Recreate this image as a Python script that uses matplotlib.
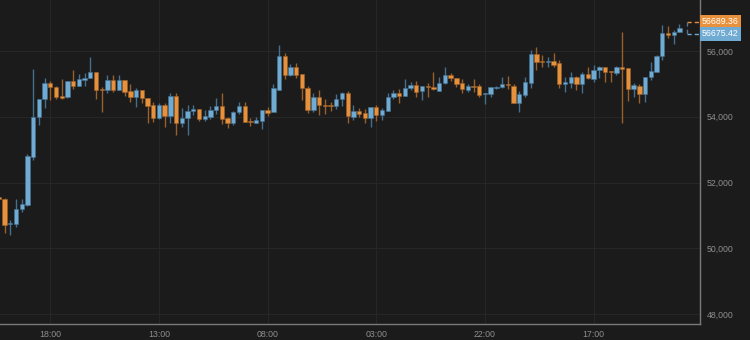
import matplotlib
matplotlib.use("Agg")
import matplotlib.pyplot as plt
import numpy as np

opens = [51550, 51489, 50738, 50729, 51185, 51325, 52785, 53984, 54531, 55027,
         54915, 54623, 54592, 55097, 54945, 55109, 55179, 55362, 54854, 54805,
         55118, 54814, 55118, 54793, 54592, 54823, 54580, 54358, 53953, 54358,
         54023, 54623, 53819, 53953, 54175, 54236, 53941, 54002, 54197, 54318,
         53953, 53801, 54154, 54337, 53880, 53819, 53880, 54206, 54154, 54829,
         55848, 55280, 55523, 55301, 54875, 54206, 54610, 54358, 54349, 54327,
         54531, 54732, 54002, 54184, 54105, 53972, 54288, 54045, 54175, 54592,
         54732, 54632, 54866, 54957, 54793, 54945, 54915, 54793, 55018, 55270,
         55179, 55018, 54814, 54936, 54936, 54692, 54692, 54884, 54915, 54988,
         54945, 54428, 54662, 55036, 55909, 55687, 55657, 55705, 55626, 55006,
         55036, 55210, 54988, 55292, 55149, 55423, 55505, 55392, 55341, 55514,
         55474, 54845, 54945, 54692, 55200, 55362, 55848, 56557, 56496, 56579]
highs = [51590, 51529, 50860, 51489, 51498, 52867, 55444, 54540, 55179, 55097,
         54921, 55140, 55103, 55414, 55310, 55331, 55809, 55368, 54915, 55261,
         55261, 55261, 55124, 54997, 54866, 54829, 54586, 54458, 54428, 54410,
         54723, 54723, 54257, 54358, 54358, 54242, 54206, 54337, 54562, 54723,
         54002, 54175, 54440, 54458, 53953, 54002, 54212, 54306, 54997, 56183,
         55931, 55596, 55626, 55307, 54936, 54714, 54814, 54531, 54458, 54683,
         54762, 54793, 54349, 54276, 54227, 54297, 54358, 54257, 54714, 54814,
         54835, 55149, 55067, 55088, 54942, 55036, 55371, 55200, 55523, 55322,
         55185, 55149, 54997, 55140, 54997, 54720, 54915, 54930, 55200, 55240,
         54988, 54784, 55200, 56031, 56113, 55879, 55809, 55949, 55727, 55219,
         55353, 55240, 55371, 55523, 55575, 55553, 55523, 55398, 55553, 56588,
         55480, 55018, 54988, 55216, 55675, 55879, 56791, 56761, 56639, 56813]
lows = [51438, 50473, 50412, 50637, 51112, 51285, 52685, 53759, 54276, 54501,
        54550, 54550, 54571, 54845, 54939, 54945, 55173, 54550, 54154, 54723,
        54762, 54808, 54641, 54440, 54306, 54428, 53819, 53850, 53947, 53679,
        53801, 53445, 53698, 53445, 54054, 53871, 53880, 53923, 54093, 53780,
        53649, 53749, 54075, 53832, 53728, 53801, 53628, 54023, 54136, 54814,
        55140, 55240, 55170, 54510, 54105, 54154, 54054, 54084, 54184, 54245,
        54327, 53801, 53902, 53984, 53801, 53698, 53871, 53902, 54169, 54531,
        54410, 54626, 54814, 54610, 54510, 54610, 54814, 54787, 54997, 55097,
        54915, 54732, 54762, 54762, 54610, 54379, 54592, 54835, 54884, 54835,
        54404, 54154, 54592, 54884, 55423, 55523, 55505, 55523, 54884, 54744,
        54866, 54814, 54714, 55164, 55067, 55188, 55067, 55048, 55270, 53801,
        54480, 54610, 54410, 54458, 55118, 55356, 55727, 56387, 56204, 56573]
closes = [51489, 50698, 50768, 51185, 51337, 52797, 53984, 54531, 55027, 54915,
          54592, 54562, 55097, 54945, 55140, 55188, 55362, 54823, 54805, 55118,
          54814, 55118, 54762, 54592, 54814, 54562, 54337, 53953, 54358, 54023,
          54623, 53819, 53953, 54184, 54236, 53923, 54023, 54206, 54318, 53932,
          53810, 54154, 54337, 53850, 53841, 53902, 54206, 54124, 54866, 55848,
          55261, 55523, 55280, 54866, 54206, 54610, 54349, 54327, 54318, 54531,
          54732, 54023, 54184, 54084, 53953, 54288, 54054, 54206, 54592, 54732,
          54632, 54866, 54957, 54753, 54936, 54915, 54835, 55018, 55270, 55170,
          54988, 54835, 54936, 54905, 54662, 54714, 54896, 54915, 54988, 54957,
          54410, 54683, 55058, 55909, 55666, 55657, 55705, 55575, 54988, 55048,
          55210, 54988, 55292, 55170, 55423, 55505, 55371, 55353, 55505, 55462,
          54845, 54966, 54692, 55210, 55401, 55858, 56557, 56487, 56569, 56689]

first_hour = 9          # hour of the first candle
first_tick = 9          # index of the first labelled candle
tick_every = 19         # hours between axis labels
y_ticks = [48000, 50000, 52000, 54000, 56000]
last_prices = [56689.36, 56675.42]

BG = "#1b1b1b"
UP = "#6fabd3"
DOWN = "#e8913c"
UP_WICK = "#44708f"
DOWN_WICK = "#9a5f2a"
TXT = "#8e8e8e"
GRID = "#262626"
SPINE = "#7a7a7a"

fig = plt.figure(figsize=(7.5, 3.4), dpi=100, facecolor=BG)
ax = fig.add_axes([0, 16 / 340, 700 / 750, 324 / 340])
ax.set_facecolor(BG)

n = len(opens)
x = np.arange(n)
o = np.array(opens, float)
h = np.array(highs, float)
l = np.array(lows, float)
c = np.array(closes, float)
up = c >= o

ax.vlines(x[up], l[up], h[up], color=UP_WICK, lw=1.0, zorder=2)
ax.vlines(x[~up], l[~up], h[~up], color=DOWN_WICK, lw=1.0, zorder=2)
body_bot = np.minimum(o, c)
body_h = np.maximum(np.abs(c - o), 35)
ax.bar(x[up], body_h[up], bottom=body_bot[up], width=0.76,
       color=UP, edgecolor=UP_WICK, linewidth=0.4, zorder=3)
ax.bar(x[~up], body_h[~up], bottom=body_bot[~up], width=0.76,
       color=DOWN, edgecolor=DOWN_WICK, linewidth=0.4, zorder=3)

ax.set_xlim(0.21, 122.6)
ax.set_ylim(47696, 57552)

hours = (first_hour + x) % 24
tick_pos = [i for i in x if i >= first_tick and (i - first_tick) % tick_every == 0]
ax.set_xticks(tick_pos)
ax.set_xticklabels([f"{hours[i]:02d}:00" for i in tick_pos])
ax.set_yticks(y_ticks)
ax.set_yticklabels([f"{v:,}" for v in y_ticks])

ax.grid(True, color=GRID, lw=0.8, zorder=0)
ax.yaxis.tick_right()
ax.tick_params(axis="both", length=0, colors=TXT, labelsize=6.3)
ax.tick_params(axis="y", pad=5)
ax.tick_params(axis="x", pad=4)
for lab in ax.get_xticklabels() + ax.get_yticklabels():
    lab.set_family(["Liberation Sans", "DejaVu Sans"])

for s in ["top", "left"]:
    ax.spines[s].set_visible(False)
for s in ["right", "bottom"]:
    ax.spines[s].set_color(SPINE)
    ax.spines[s].set_linewidth(1.0)

# last price labels with dashed bracket
ppx = (57552 - 47696) / 324.0
mid = last_prices[0]
y_lab = [mid + 6.5 * ppx, mid - 5.5 * ppx]
cols = [DOWN, UP]
for yv, val, col in zip(y_lab, last_prices, cols):
    ax.text(1.003, yv, f"{val:.2f}", transform=ax.get_yaxis_transform(),
            ha="left", va="center", color="white", fontsize=6.3,
            family=["Liberation Sans", "DejaVu Sans"],
            bbox=dict(boxstyle="square,pad=0.25", fc=col, ec="none"),
            clip_on=False, zorder=6)
    ax.plot([120.3, 122.6], [yv, yv], color=col, lw=1.0,
            ls=(0, (3, 2.2)), zorder=4)
ax.plot([120.4, 120.4], y_lab, color="#54758c", lw=1.0,
        ls=(0, (3, 2.2)), zorder=4)

fig.savefig("out.png", dpi=100, facecolor=BG)
